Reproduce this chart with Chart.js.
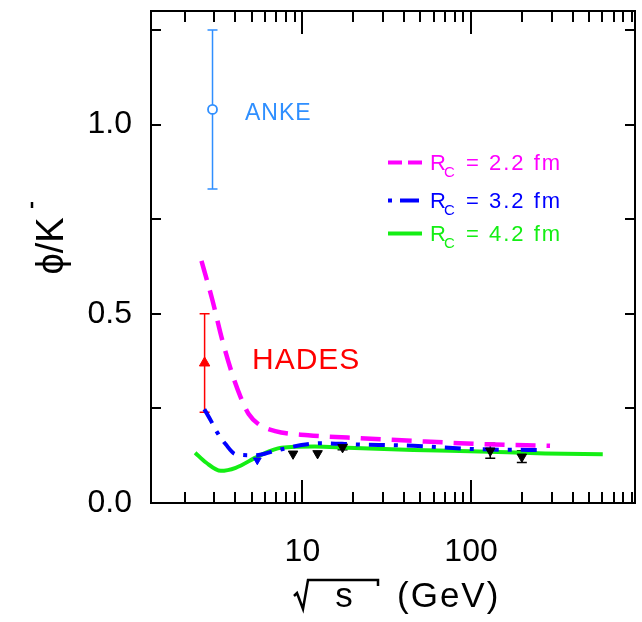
<!DOCTYPE html>
<html>
<head>
<meta charset="utf-8">
<script src="https://cdn.jsdelivr.net/npm/chart.js@4.4.0/dist/chart.umd.min.js"></script>
<style>
    html, body { margin: 0; padding: 0; background: #fff; overflow: hidden; }
</style>
</head>
<body>
<canvas id="my" width="642" height="622"></canvas>
<script>
// model curves, phi/K- vs sqrt(s) in GeV
var rc22X = [2.52, 2.93, 3.35, 3.84, 4.3, 4.8, 5.5, 6.9, 10.8, 18.5, 45.5, 112, 294];
var rc22Y = [0.64, 0.535, 0.43, 0.34, 0.28, 0.235, 0.208, 0.19, 0.179, 0.173, 0.164, 0.156, 0.151];

var rc32X = [2.62, 2.87, 3.13, 3.51, 4.02, 5.26, 6.9, 9.87, 12.9, 20.3, 45.5, 112, 275];
var rc32Y = [0.248, 0.217, 0.186, 0.155, 0.129, 0.126, 0.138, 0.153, 0.158, 0.155, 0.151, 0.142, 0.140];

var rc42X = [2.31, 2.68, 3.28, 4.02, 5.5, 7.5, 11.8, 18.5, 45.5, 112, 275, 604];
var rc42Y = [0.133, 0.107, 0.085, 0.093, 0.124, 0.146, 0.149, 0.146, 0.140, 0.136, 0.131, 0.129];

// measurements
var ankeX = [2.93], ankeY = [1.04], ankeLo = [0.83], ankeHi = [1.25];
var hadesX = [2.63], hadesY = [0.37], hadesLo = [0.24], hadesHi = [0.50];
var dataX = [8.8, 12.3, 17.3, 130, 200];
var dataY = [0.130, 0.131, 0.147, 0.138, 0.122];
var dataLo = [null, null, 0.141, 0.118, 0.107];
var dataHi = [null, null, 0.155, 0.158, 0.138];
var blueX = [5.4], blueY = [0.113];

var legendValues = ['2.2', '3.2', '4.2'];
var yLabels = [0, 0.5, 1.0];
var xLabels = [10, 100];

function pts(xs, ys) {
    return xs.map(function (x, i) { return { x: x, y: ys[i] }; });
}

var FONT = "'Liberation Sans', 'DejaVu Sans', sans-serif";
var NARROW = "'Liberation Sans Narrow', 'Liberation Sans', sans-serif";
var MAGENTA = '#ff00ff', BLUE = '#0000ff', GREEN = '#14ee14', ANKE = '#2f8fff', RED = '#ff0000';

var errorBars = {
    id: 'errorBars',
    beforeDatasetsDraw: function (chart) {
        var c = chart.ctx, xs = chart.scales.x, ys = chart.scales.y;
        c.save();
        chart.data.datasets.forEach(function (ds) {
            if (!ds.errLo) return;
            c.strokeStyle = ds.borderColor;
            c.lineWidth = 1.5;
            ds.data.forEach(function (p, i) {
                if (ds.errLo[i] == null) return;
                var px = xs.getPixelForValue(p.x);
                var lo = ys.getPixelForValue(ds.errLo[i]);
                var hi = ys.getPixelForValue(ds.errHi[i]);
                c.beginPath();
                c.moveTo(px, lo); c.lineTo(px, hi);
                c.moveTo(px - 5, lo); c.lineTo(px + 5, lo);
                c.moveTo(px - 5, hi); c.lineTo(px + 5, hi);
                c.stroke();
            });
        });
        c.restore();
    }
};

var frame = {
    id: 'frame',
    afterDraw: function (chart) {
        var c = chart.ctx, a = chart.chartArea;
        var xs = chart.scales.x, ys = chart.scales.y;
        c.save();
        c.strokeStyle = '#000';
        c.lineWidth = 2;
        c.strokeRect(a.left, a.top, a.right - a.left, a.bottom - a.top);
        c.beginPath();
        for (var e = 0; e <= 3; e++) {
            for (var m = 1; m <= 9; m++) {
                var v = m * Math.pow(10, e);
                if (v < xs.min || v > xs.max) continue;
                var px = Math.round(xs.getPixelForValue(v));
                var len = m === 1 ? 23 : 11;
                c.moveTo(px, a.bottom); c.lineTo(px, a.bottom - len);
                c.moveTo(px, a.top); c.lineTo(px, a.top + len);
            }
        }
        for (var k = 0; k <= 5; k++) {
            var py = Math.round(ys.getPixelForValue(k * 0.25));
            c.moveTo(a.left, py); c.lineTo(a.left + 10, py);
            c.moveTo(a.right, py); c.lineTo(a.right - 10, py);
        }
        c.stroke();

        // y title
        c.fillStyle = '#000';
        c.save();
        c.translate(63, 244);
        c.rotate(-Math.PI / 2);
        c.font = '38px ' + FONT;
        c.textAlign = 'center';
        c.textBaseline = 'alphabetic';
        c.fillText('\u03D5/K', -2, 0);
        c.lineWidth = 2.5;
        c.beginPath();
        c.moveTo(36, -31); c.lineTo(42, -31);
        c.stroke();
        c.restore();

        // x title
        c.lineWidth = 2.5;
        c.lineJoin = 'miter';
        c.beginPath();
        c.moveTo(294, 596); c.lineTo(297, 593);
        c.lineTo(303, 609); c.lineTo(308, 580);
        c.lineTo(378, 580); c.lineTo(378, 586);
        c.stroke();
        c.font = '35px ' + FONT;
        c.textAlign = 'center';
        c.fillText('s', 344, 607);
        c.textAlign = 'left';
        c.letterSpacing = '2px';
        c.fillText('(GeV)', 397, 607);
        c.letterSpacing = '0px';

        // annotations
        c.fillStyle = ANKE;
        c.font = '23px ' + FONT;
        c.letterSpacing = '1px';
        c.fillText('ANKE', 245, 120);
        c.fillStyle = RED;
        c.font = '30px ' + FONT;
        c.fillText('HADES', 252, 369);
        c.letterSpacing = '0px';

        // legend
        var rows = [
            { color: MAGENTA, dash: [14, 6], y: 170 },
            { color: BLUE, dash: [4, 8, 19, 100], y: 208 },
            { color: GREEN, dash: [], y: 241 }
        ];
        rows.forEach(function (r, i) {
            c.strokeStyle = r.color;
            c.fillStyle = r.color;
            c.lineWidth = 4;
            c.setLineDash(r.dash);
            c.beginPath();
            c.moveTo(388, r.y - 7.5); c.lineTo(422, r.y - 7.5);
            c.stroke();
            c.setLineDash([]);
            c.font = '22px ' + FONT;
            c.textAlign = 'left';
            c.fillText('R', 430, r.y);
            c.font = '15px ' + FONT;
            c.fillText('C', 444, r.y + 7);
            c.font = '22px ' + FONT;
            c.letterSpacing = '2px';
            c.fillText('= ' + legendValues[i] + ' fm', 466, r.y);
            c.letterSpacing = '0px';
        });
        c.restore();
    }
};

var ctx = document.getElementById('my').getContext('2d');
var myChart = new Chart(ctx, {
    type: 'scatter',
    plugins: [errorBars, frame],
    data: {
        datasets: [
            {
                label: 'ANKE',
                data: pts(ankeX, ankeY),
                errLo: ankeLo, errHi: ankeHi,
                borderColor: ANKE, backgroundColor: '#fff',
                pointStyle: 'circle', pointRadius: 4.5, borderWidth: 1.8
            },
            {
                label: 'HADES',
                data: pts(hadesX, hadesY),
                errLo: hadesLo, errHi: hadesHi,
                borderColor: RED, backgroundColor: RED,
                pointStyle: 'triangle', pointRadius: 6, borderWidth: 1
            },
            {
                label: 'data',
                data: pts(dataX, dataY),
                errLo: dataLo, errHi: dataHi,
                borderColor: '#000', backgroundColor: '#000',
                pointStyle: 'triangle', rotation: 180, pointRadius: 5.5, borderWidth: 1
            },
            {
                label: 'blue point',
                data: pts(blueX, blueY),
                borderColor: BLUE, backgroundColor: BLUE,
                pointStyle: 'triangle', rotation: 180, pointRadius: 4.5, borderWidth: 1
            },
            {
                label: 'Rc = 2.2 fm',
                data: pts(rc22X, rc22Y),
                showLine: true, pointRadius: 0,
                borderColor: MAGENTA, borderWidth: 4.5, borderDash: [20, 11],
                cubicInterpolationMode: 'monotone'
            },
            {
                label: 'Rc = 3.2 fm',
                data: pts(rc32X, rc32Y),
                showLine: true, pointRadius: 0,
                borderColor: BLUE, borderWidth: 4, borderDash: [16, 9, 4, 9],
                cubicInterpolationMode: 'monotone'
            },
            {
                label: 'Rc = 4.2 fm',
                data: pts(rc42X, rc42Y),
                showLine: true, pointRadius: 0,
                borderColor: GREEN, borderWidth: 4,
                cubicInterpolationMode: 'monotone'
            }
        ]
    },
    options: {
        responsive: false,
        animation: false,
        layout: { padding: { top: 11, right: 1, left: 0, bottom: 0 } },
        plugins: {
            legend: { display: false },
            tooltip: { enabled: false }
        },
        scales: {
            x: {
                type: 'logarithmic',
                min: 1.265,
                max: 938,
                grid: { display: false, drawTicks: false },
                border: { display: false },
                ticks: {
                    autoSkip: false,
                    maxRotation: 0,
                    padding: 30,
                    color: '#000',
                    font: { family: NARROW, size: 32 },
                    callback: function (v) {
                        for (var i = 0; i < xLabels.length; i++) {
                            if (Math.abs(v - xLabels[i]) < 1e-6) return String(xLabels[i]);
                        }
                        return '';
                    }
                },
                afterFit: function (s) {
                    s.height = 119;
                    s.paddingLeft = 0;
                    s.paddingRight = 0;
                }
            },
            y: {
                min: 0,
                max: 1.3,
                grid: { display: false, drawTicks: false },
                border: { display: false },
                ticks: {
                    stepSize: 0.25,
                    padding: 19,
                    color: '#000',
                    font: { family: NARROW, size: 32 },
                    callback: function (v) {
                        for (var i = 0; i < yLabels.length; i++) {
                            if (Math.abs(v - yLabels[i]) < 1e-6) return yLabels[i].toFixed(1);
                        }
                        return '';
                    }
                },
                afterFit: function (s) {
                    s.width = 151;
                    s.paddingTop = 0;
                    s.paddingBottom = 0;
                }
            }
        }
    }
});
</script>
</body>
</html>
